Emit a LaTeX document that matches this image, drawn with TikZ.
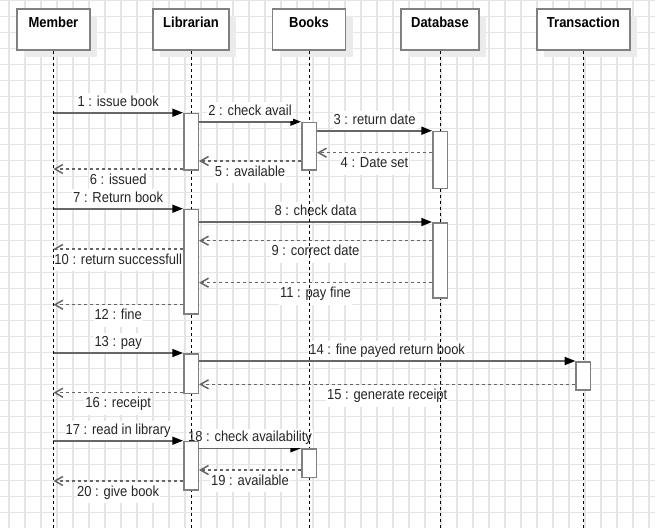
\documentclass[tikz,border=0pt]{standalone}
\usepackage{fontspec}
\newfontfamily\diafont{Liberation Sans}[FakeStretch=0.895]
\usetikzlibrary{arrows.meta, shadows}

\pgfdeclarelayer{grid}
\pgfdeclarelayer{msg}
\pgfsetlayers{grid,msg,main}

\begin{document}
\begin{tikzpicture}[
    x=1pt, y=-1pt,
    every node/.style={font=\diafont\fontsize{14.5}{17}\selectfont},
    head/.style={rectangle, draw=gray, line width=1.6pt, fill=white, anchor=north,
                 font=\diafont\bfseries\fontsize{14.5}{17}\selectfont,
                 text height=18.7pt, text depth=22.3pt, inner ysep=0pt,
                 drop shadow={shadow xshift=7pt, shadow yshift=-7pt, fill=black!8, opacity=1}},
    act/.style={rectangle, draw=gray, line width=1.5pt, fill=white, anchor=north,
                minimum width=14.5pt, inner sep=0pt},
    life/.style={black, line width=1pt, dash pattern=on 3pt off 3pt},
    sync/.style={black!60, line width=1.6pt,
                 -{Triangle[length=10.7pt, width=8pt, color=black]}},
    rtn/.style={black!60, line width=1.5pt, dash pattern=on 3pt off 3pt,
                -{Straight Barb[length=8pt, width=9pt]}},
    lblup/.style={above, fill=white, text=black!85, inner xsep=1pt, inner ysep=2.7pt,
                  text height=10.5pt, text depth=3pt},
    lbldn/.style={below, fill=white, text=black!85, inner xsep=1pt, inner ysep=4pt,
                  text height=10.5pt, text depth=3pt},
    gridline/.style={draw=black!10, line width=1.5pt},
  ]
    \useasboundingbox (0,0) rectangle (655,528);
    \def\xM{53.4}\def\xL{191}\def\xB{309}\def\xD{440}\def\xT{583.4}
    % background grid
    \begin{pgfonlayer}{grid}
      \fill[white] (0,0) rectangle (655,528);
      \foreach \gx in {9,25,...,649} \draw[gridline] (\gx,0) -- (\gx,528);
      \foreach \gy in {0.7,16.7,...,528} \draw[gridline] (0,\gy) -- (655,\gy);
    \end{pgfonlayer}
    % participants
    \node[head, minimum width=73pt] (hM) at (\xM, 8) {Member};
    \node[head, minimum width=76pt] (hL) at (\xL, 8) {Librarian};
    \node[head, minimum width=73pt] (hB) at (\xB, 8) {Books};
    \node[head, minimum width=78pt] (hD) at (\xD, 8) {Database};
    \node[head, minimum width=93pt] (hT) at (\xT, 8) {Transaction};
    \foreach \h in {hM, hL, hB, hD, hT}
      \draw[life] (\h.south) -- (\h |- 0,528);
    % activations
    \node[act, minimum height=56.3pt] (L1) at (\xL, 112.7) {};
    \node[act, minimum height=47.3pt] (B1) at (\xB, 121.7) {};
    \node[act, minimum height=57pt] (D1) at (\xD, 130.7) {};
    \node[act, minimum height=104.3pt] (L2) at (\xL, 208.7) {};
    \node[act, minimum height=75pt] (D2) at (\xD, 222) {};
    \node[act, minimum height=39.7pt] (L3) at (\xL, 353) {};
    \node[act, minimum height=28.3pt] (T1) at (\xT, 361) {};
    \node[act, minimum height=48.3pt] (L4) at (\xL, 440.7) {};
    \node[act, minimum height=28.4pt] (B2) at (\xB, 448.3) {};
    % messages
    \begin{pgfonlayer}{msg}
      \foreach \a/\b/\y/\txt in {
          hM/L1.west/112.7/{1 : issue book},
          L1.east/B1.west/121.7/{2 : check avail},
          B1.east/D1.west/130.7/{3 : return date},
          hM/L2.west/208.7/{7 : Return book},
          L2.east/D2.west/222/{8 : check data},
          hM/L3.west/353/{13 : pay},
          L3.east/T1.west/361/{14 : fine payed return book},
          hM/L4.west/440.7/{17 : read in library},
          L4.east/B2.west/448.3/{18 : check availability}}
        \draw[sync] (\a |- 0,\y) -- (\b |- 0,\y) node[midway, lblup] {\txt};
      \foreach \a/\b/\y/\txt in {
          D1.west/B1.east/152.7/{4 : Date set},
          B1.west/L1.east/161/{5 : available},
          L1.west/hM/169/{6 : issued},
          D2.west/L2.east/240.7/{9 : correct date},
          L2.west/hM/249/{10 : return successfull},
          D2.west/L2.east/282.7/{11 : pay fine},
          L2.west/hM/304.7/{12 : fine},
          T1.west/L3.east/384.3/{15 : generate receipt},
          L3.west/hM/392.7/{16 : receipt},
          B2.west/L4.east/470/{19 : available},
          L4.west/hM/481/{20 : give book}}
        \draw[rtn] (\a |- 0,\y) -- (\b |- 0,\y) node[midway, lbldn] {\txt};
    \end{pgfonlayer}
\end{tikzpicture}
\end{document}
